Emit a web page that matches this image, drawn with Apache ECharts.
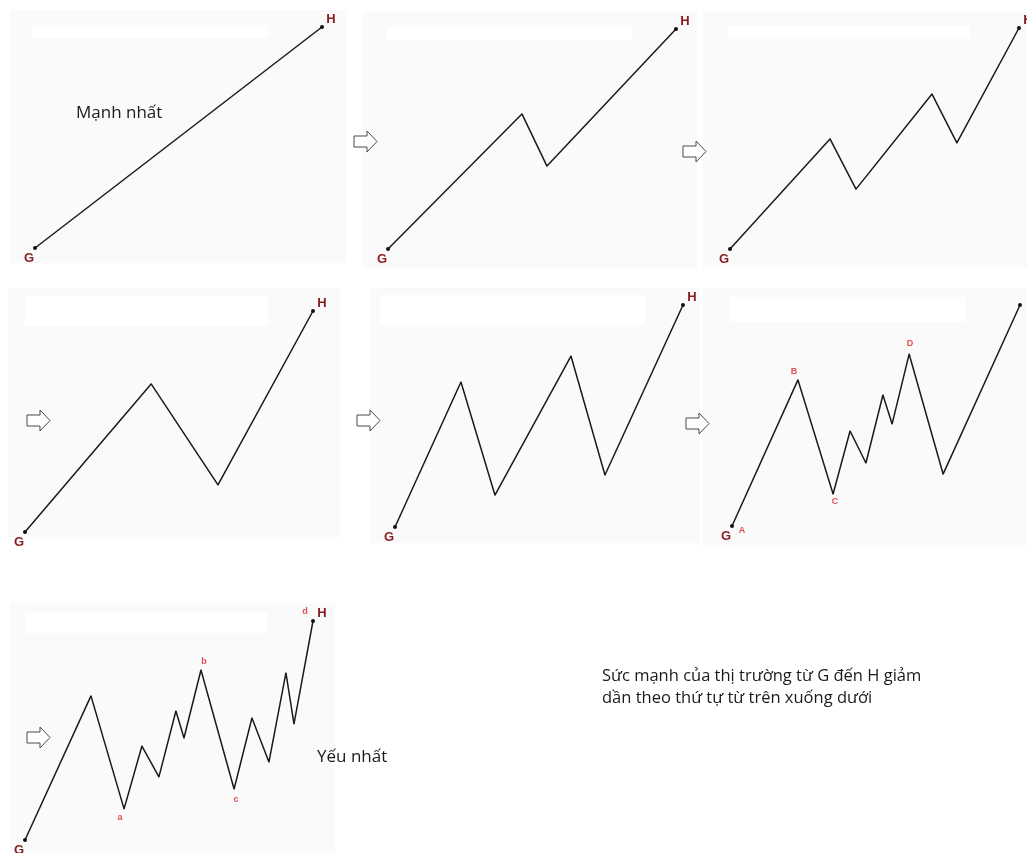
<!DOCTYPE html>
<html><head><meta charset="utf-8">
<script src="https://cdn.jsdelivr.net/npm/echarts@6/dist/echarts.min.js"></script>
<style>html,body{margin:0;padding:0;background:#fff}#c{width:1027px;height:853px}</style>
</head><body><div id="c"></div>
<script>
// Wave paths: [time, price], G = [0,0], H = [100,100]
const wave1 = [[0,0],[100,100]];
const wave2 = [[0,0],[46.5,61.4],[55.2,37.7],[100,100]];
const wave3 = [[0,0],[34.6,49.8],[43.6,27.1],[69.9,70.1],[78.5,48.0],[100,100]];
const wave4 = [[0,0],[43.8,67.0],[67.0,21.3],[100,100]];
const wave5 = [[0,0],[22.9,65.3],[34.7,14.4],[61.1,77.0],[72.9,23.4],[100,100]];
const wave6 = [[0,0],[22.9,66.1],[35.1,14.5],[41.0,43.0],[46.5,28.5],[52.4,59.3],[55.6,46.2],[61.5,77.8],[73.3,23.5],[100,100]];
const wave7 = [[0,0],[22.9,65.8],[34.4,14.2],[40.6,42.9],[46.5,28.8],[52.4,58.9],[55.2,46.6],[61.1,77.6],[72.6,23.3],[78.8,55.7],[84.7,35.6],[90.6,76.3],[93.4,53.0],[100,100]];
const startNames = ['G','G','G','G','G','G','G'];
const endNames = ['H','H','H','H','H','','H'];
const wave6Names = ['A','B','C','','','','','D','',''];
const wave7Names = ['','','a','','','','','b','c','','','','','d'];
const textStrong = 'Mạnh nhất';
const textWeak = 'Yếu nhất';
const noteLines = ['Sức mạnh của thị trường từ G đến H giảm', 'dần theo thứ tự từ trên xuống dưới'];

const waves = [wave1, wave2, wave3, wave4, wave5, wave6, wave7];
const waveNames = [null, null, null, null, null, wave6Names, wave7Names];

// layout
const boxes = [
  {left:35, top:27, width:287, height:221},
  {left:388, top:29, width:288, height:220},
  {left:730, top:28, width:289, height:221},
  {left:25, top:311, width:288, height:221},
  {left:395, top:305, width:288, height:222},
  {left:732, top:305, width:288, height:221},
  {left:25, top:621, width:288, height:219}
];
const smallOffsets = {A:[10,5], B:[-4,-8], C:[2,8], D:[1,-11], a:[-4,9], b:[3,-9], c:[2,11], d:[-8,-9]};
const panelsBg = [
  [10,10,337,253],[362,12,335,256],[703,12,324,255],
  [8,288,332,249],[370,288,330,255],[703,288,324,257],[10,603,325,250]
];
const bars = [
  [32,25,236,13],[387,27,245,13],[728,26,242,13],
  [25,296,243,30],[380,295,265,30],[730,297,235,25],[25,612,242,21]
];
const arrows = [[354,131],[683,141],[27,410],[357,410],[686,413],[27,727]];
const arrowPts = [[0,5],[13,5],[13,0],[23,10.5],[13,21],[13,16],[0,16]];

const grids = [], xAxes = [], yAxes = [], series = [];
const gLabel = {fontFamily:'Liberation Sans', fontWeight:'bold', fontSize:13, color:'#8a1b1f'};
waves.forEach((w, k) => {
  grids.push(Object.assign({containLabel:false}, boxes[k]));
  xAxes.push({type:'value', gridIndex:k, min:0, max:100, show:false});
  yAxes.push({type:'value', gridIndex:k, min:0, max:100, show:false});
  const last = w.length - 1;
  series.push({
    type:'line', xAxisIndex:k, yAxisIndex:k, clip:false, silent:true, animation:false,
    lineStyle:{color:'#1a1a1a', width:1.5},
    symbol:'circle',
    symbolSize:(v, p) => (p.dataIndex === 0 || p.dataIndex === last) ? 4 : 1,
    itemStyle:{color:'#111'},
    data: w.map((v, i) => {
      const item = {value:v};
      if (i === 0) item.label = Object.assign({show:true, position:'inside', offset:[-6,10.5], formatter:startNames[k]}, gLabel);
      else if (i === last && endNames[k]) item.label = Object.assign({show:true, position:'inside', offset:[9,-8], formatter:endNames[k]}, gLabel);
      else item.label = {show:false};
      return item;
    }),
    z:3
  });
  const names = waveNames[k];
  if (names) {
    series.push({
      type:'scatter', xAxisIndex:k, yAxisIndex:k, clip:false, silent:true, animation:false,
      symbolSize:1, itemStyle:{color:'rgba(0,0,0,0)'},
      data: w.map((v, i) => ({value:v, name:names[i]})).filter(d => d.name).map(d => ({
        value:d.value,
        label:{show:true, position:'inside', offset:smallOffsets[d.name], formatter:d.name,
          fontFamily:'Liberation Sans', fontWeight:'bold', fontSize:9, color:'#d9262b'}
      })),
      z:4
    });
  }
});

const graphic = [];
panelsBg.forEach(r => graphic.push({type:'rect', shape:{x:r[0], y:r[1], width:r[2], height:r[3]}, style:{fill:'#fafafa'}, z:-10, silent:true}));
bars.forEach(r => graphic.push({type:'rect', shape:{x:r[0], y:r[1], width:r[2], height:r[3]}, style:{fill:'#ffffff'}, z:-9, silent:true}));
arrows.forEach(a => graphic.push({type:'polygon', x:a[0], y:a[1], shape:{points:arrowPts}, style:{fill:'#fff', stroke:'#4a4a4a', lineWidth:1}, z:10, silent:true}));
graphic.push({type:'text', left:76, top:105, style:{text:textStrong, font:'17px "Open Sans"', fill:'#1a1a1a'}, z:10});
graphic.push({type:'text', left:317, top:749, style:{text:textWeak, font:'17px "Open Sans"', fill:'#1a1a1a'}, z:10});
graphic.push({type:'text', left:602, top:665, style:{text:noteLines.join('\n'), font:'16.5px "Open Sans"', lineHeight:22, fill:'#1a1a1a'}, z:10});

const chart = echarts.init(document.getElementById('c'), null, {renderer:'canvas'});
chart.setOption({
  animation:false,
  backgroundColor:'#ffffff',
  grid:grids, xAxis:xAxes, yAxis:yAxes, series:series, graphic:graphic
});
</script></body></html>
